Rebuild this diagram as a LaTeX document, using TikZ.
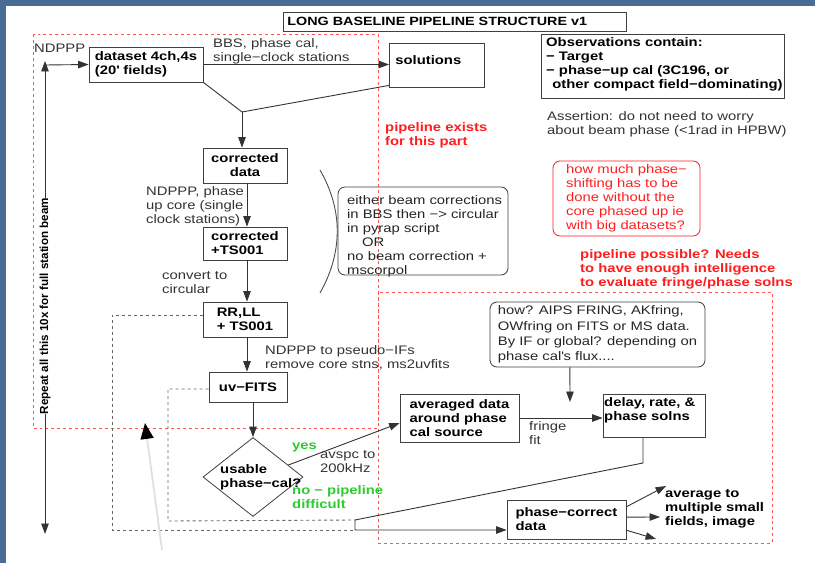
\documentclass[tikz,border=0pt]{standalone}
\usepackage{fontspec}
\setmainfont{Liberation Sans}[FakeStretch=1.2]
\newfontfamily\rotfont{Liberation Sans}
\usetikzlibrary{arrows.meta,shapes.geometric,calc}
\definecolor{slideblue}{RGB}{72,108,150}
\definecolor{pipered}{RGB}{255,30,30}
\definecolor{dashred}{RGB}{255,85,85}
\definecolor{okgreen}{RGB}{45,205,45}
\newcommand\dfs{\fontsize{12.4}{14}\selectfont}
\begin{document}
\begin{tikzpicture}[x=1bp,y=-1bp,
  every node/.style={font=\dfs},
  box/.style={draw=black!75, line width=0.8pt, inner sep=1.5pt, align=left, font=\dfs\bfseries},
  rbox/.style={draw=black!75, line width=0.8pt, rounded corners=7pt, inner sep=3pt, align=left, text=black!85},
  txt/.style={inner sep=0pt, anchor=west, align=left, text=black!80},
  btxt/.style={txt, font=\dfs\bfseries, text=black},
  arr/.style={draw=black!80, line width=0.9pt, -{Triangle[length=10.5pt,width=7.5pt]}},
  plain/.style={draw=black!80, line width=0.9pt},
  gdash/.style={draw=black!60, line width=0.9pt, dash pattern=on 3pt off 3pt},
  rdash/.style={draw=dashred, line width=0.9pt, dash pattern=on 3pt off 3pt},
]
\useasboundingbox (0,0) rectangle (815,563);
\fill[white] (0,0) rectangle (815,563);
\fill[slideblue] (0,0) rectangle (815,6);
\fill[slideblue] (0,0) rectangle (6,563);

% red dashed regions
\draw[rdash] (33,34) rectangle (378,428);
\draw[rdash] (378,292) rectangle (772,543);

% title
\node[box, anchor=west, text width=335bp, inner xsep=4bp, minimum height=19bp, font=\fontsize{12}{14}\selectfont\bfseries] (title) at (283,21.5) {LONG BASELINE PIPELINE STRUCTURE v1};

% main boxes
\node[box, minimum width=114bp, minimum height=35bp] (dataset) at (146,64.5) {dataset 4ch,4s\\(20\textquotesingle{} fields)};
\node[box, anchor=west, text width=83bp, inner xsep=6bp, minimum height=44bp, text depth=10pt] (solutions) at (389,65) {solutions};
\node[box, align=center, minimum width=84bp, minimum height=35bp] (cdata) at (245,165.5) {corrected\\data};
\node[box, minimum width=84bp, minimum height=33bp] (ts) at (245,243.5) {corrected\\+TS001};
\node[box, minimum width=84bp, minimum height=35bp] (rrll) at (245,319.5) {RR,LL\\+ TS001};
\node[box, align=center, minimum width=78bp, minimum height=30bp] (uvfits) at (248,387) {uv−FITS};
\node[diamond, draw=black!75, line width=0.8pt, minimum width=100bp, minimum height=79bp, inner sep=0pt] (dia) at (253,477) {};
\node[btxt] (diatxt) at (220,477) {usable\\phase−cal?};
\node[box, minimum width=119bp, minimum height=48bp] (avg) at (459.5,418) {averaged data\\around phase\\cal source};
\node[box, minimum width=102bp, minimum height=43bp] (delay) at (654,415.5) {};
\node[btxt] (delaytxt) at (604,410) {delay, rate, \&\\phase solns};
\node[box, minimum width=119bp, minimum height=39bp] (pc) at (566.5,519.5) {phase−correct\\data};

% info boxes
\node[box, minimum width=243bp, minimum height=64bp] (obs) at (662.5,66) {};
\node[btxt] (obstxt) at (546,64) {Observations contain:\\− Target\\− phase−up cal (3C196, or\\\hspace*{0.5em}other compact field−dominating)};
\node[rbox, draw=pipered, text=pipered, minimum width=147bp, minimum height=75bp] (howmuch) at (626.5,198.5) {how much phase−\\shifting has to be\\done without the\\core phased up ie\\with big datasets?};
\node[rbox, minimum width=215bp, minimum height=65bp, font=\fontsize{12.4}{15.3}\selectfont] (how) at (597.5,334.5) {how? AIPS FRING, AKfring,\\OWfring on FITS or MS data.\\By IF or global? depending on\\phase cal\textquotesingle s flux....};
\node[rbox, minimum width=170bp, minimum height=88bp] (either) at (423,231) {};
\node[txt, text=black!85] (eithertxt) at (347,236) {either beam corrections\\in BBS then −> circular\\in pyrap script\\\hspace*{1.2em}OR\\no beam correction +\\mscorpol};

% labels
\node[txt] (ndppp) at (34,48) {NDPPP};
\node[txt] (bbs) at (213,51.5) {BBS, phase cal,\\single−clock stations};
\node[txt, text=pipered, font=\dfs\bfseries] (exists) at (385,135) {pipeline exists\\for this part};
\node[txt] (assert) at (547,124) {Assertion: do not need to worry\\about beam phase (<1rad in HPBW)};
\node[txt] (ndppp2) at (146,206) {NDPPP, phase\\up core (single\\clock stations)};
\node[txt] (conv) at (162,283) {convert to\\circular};
\node[txt] (pseudo) at (265,358) {NDPPP to pseudo−IFs\\remove core stns, ms2uvfits};
\node[txt, text=okgreen, font=\dfs\bfseries] (yes) at (292,447) {yes};
\node[txt] (avspc) at (320,462) {avspc to\\200kHz};
\node[txt, text=okgreen, font=\dfs\bfseries] (no) at (292,497) {no − pipeline\\difficult};
\node[txt] (fringe) at (529,433) {fringe\\fit};
\node[btxt] (avgto) at (665,509) {average to\\multiple small\\fields, image};
\node[txt, text=pipered, font=\dfs\bfseries] (possible) at (580,269) {pipeline possible? Needs\\to have enough intelligence\\to evaluate fringe/phase solns};
\node[txt, anchor=center, rotate=90, text=black, font=\rotfont\fontsize{11.7}{14}\selectfont\bfseries] (repeat) at (45,306) {Repeat all this 10x for full station beam};

% coordinates
\coordinate (corner) at (45,65);
\coordinate (jn) at (242,112);
\coordinate (howtip) at (570,402);
\coordinate (d1) at (643,463);
\coordinate (d2) at (355,520);
\coordinate (d3) at (355,530);
\coordinate (o1) at (666,486);
\coordinate (o2) at (660,517);
\coordinate (o3) at (656,539);
\coordinate (gs) at (162,550);
\coordinate (gt) at (145,423);

% connectors
\draw[arr] (repeat.east) -- (45,61);
\draw[arr] (repeat.west) -- (45,534);
\draw[arr] (corner) -- (dataset.west);
\draw[arr] (dataset.east) -- (dataset.east -| solutions.west);
\draw[plain] (dataset.south east) -- (jn);
\draw[plain] ([yshift=2pt]solutions.south west) -- (jn);
\draw[arr] (jn) -- (jn |- cdata.north);
\draw[arr] ([xshift=2pt]cdata.south) -- ([xshift=2pt]ts.north);
\draw[arr] ([xshift=2pt]ts.south) -- ([xshift=2pt]rrll.north);
\draw[arr] ([xshift=2pt]rrll.south) -- ([xshift=2pt]rrll.south |- uvfits.north);
\draw[arr] (uvfits.south -| dia.north) -- (dia.north);
\draw[arr] ($(dia.east)!0.3!(dia.north)$) -- ($(avg.west)+(0,5)$);
\draw[arr] (avg.east) -- (avg.east -| delay.west);
\draw[arr] ($(how.south west)!0.372!(how.south east)$) -- (howtip);
\draw[arr] (delay.south -| d1) -- (d1) -- (d2) -- (d3) -- (d3 -| pc.west);
\draw[arr] ($(pc.north east)!0.18!(pc.south east)$) -- (o1);
\draw[arr] ($(pc.north east)!0.44!(pc.south east)$) -- (o2);
\draw[arr] ($(pc.north east)!0.77!(pc.south east)$) -- (o3);
\draw[gdash] ($(rrll.west)+(0,-4.5)$) -- (112,315) -- (112,530) -- (d3);
\draw[gdash] ($(uvfits.west)+(0,2)$) -- (168,389) -- (168,521) -- (d2);
\draw[plain, draw=black!70] (320,170) .. controls (343,210) and (343,252) .. (320,293);
\draw[draw=black!12, line width=1.8pt, -{Triangle[length=16pt,width=13pt,color=black]}] (gs) -- (gt);
\end{tikzpicture}
\end{document}
